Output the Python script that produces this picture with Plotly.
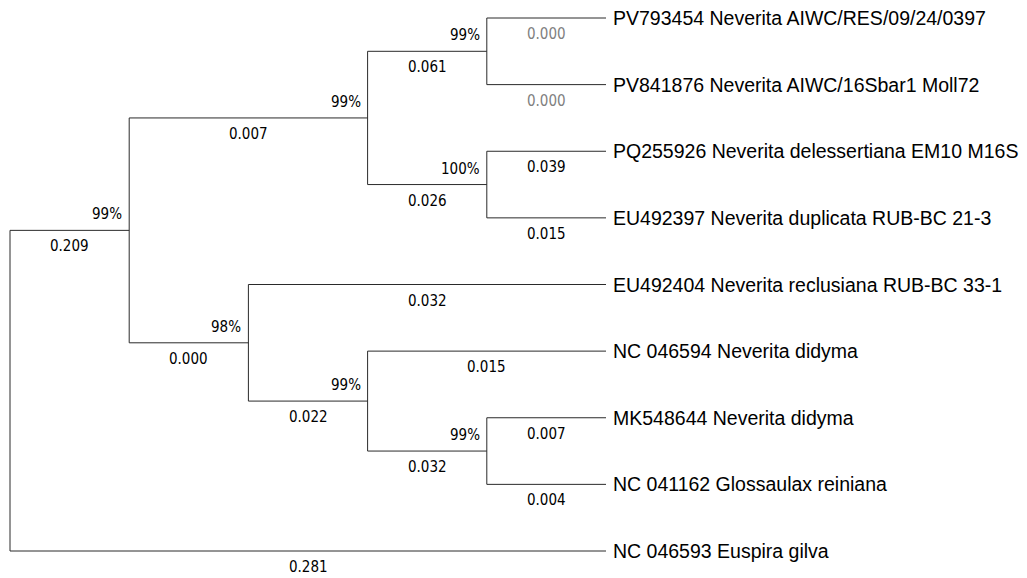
import plotly.graph_objects as go

# ---------------- data ----------------
leaf_names = [
    "PV793454 Neverita AIWC/RES/09/24/0397",
    "PV841876 Neverita AIWC/16Sbar1 Moll72",
    "PQ255926 Neverita delessertiana EM10 M16S",
    "EU492397 Neverita duplicata RUB-BC 21-3",
    "EU492404 Neverita reclusiana RUB-BC 33-1",
    "NC 046594 Neverita didyma",
    "MK548644 Neverita didyma",
    "NC 041162 Glossaulax reiniana",
    "NC 046593 Euspira gilva",
]
leaf_parent = ["N3", "N3", "N4", "N4", "N5", "N6", "N7", "N7", "N0"]
leaf_length = ["0.000", "0.000", "0.039", "0.015", "0.032", "0.015", "0.007", "0.004", "0.281"]

node_ids = ["N0", "N1", "N2", "N3", "N4", "N5", "N6", "N7"]
node_parent = [None, "N0", "N1", "N2", "N2", "N1", "N5", "N6"]
node_length = [None, "0.209", "0.007", "0.061", "0.026", "0.000", "0.022", "0.032"]
node_bootstrap = [None, "99%", "99%", "99%", "100%", "98%", "99%", "99%"]

# ---------------- layout of the tree (topology only, tips aligned) ----------------
children = {n: [] for n in node_ids}
for i, p in enumerate(leaf_parent):
    children[p].append(("L", i))
for n, p in zip(node_ids, node_parent):
    if p is not None:
        children[p].append(("N", n))

height = {}
ypos = {}


def walk(n):
    hs, ys = [], []
    for kind, c in children[n]:
        if kind == "L":
            hs.append(0)
            ys.append(c)
        else:
            walk(c)
            hs.append(height[c])
            ys.append(ypos[c])
    height[n] = max(hs) + 1
    ypos[n] = (min(ys) + max(ys)) / 2


walk("N0")
H = height["N0"]
xpos = {n: H - height[n] for n in node_ids}

xs, ys = [], []
annotations = []
LEN_FONT = dict(family="DejaVu Sans Condensed, Tahoma, sans-serif", size=15, color="black")

for n in node_ids:
    cy = []
    for kind, c in children[n]:
        cy.append(c if kind == "L" else ypos[c])
    xs += [xpos[n], xpos[n], None]
    ys += [min(cy), max(cy), None]

for n, p, bl, bs in zip(node_ids, node_parent, node_length, node_bootstrap):
    if p is None:
        continue
    xs += [xpos[p], xpos[n], None]
    ys += [ypos[n], ypos[n], None]
    annotations.append(dict(x=(xpos[p] + xpos[n]) / 2, y=ypos[n], text=bl, showarrow=False,
                            xanchor="center", yanchor="middle", yshift=-16, font=LEN_FONT))
    annotations.append(dict(x=xpos[n], y=ypos[n], text=bs, showarrow=False,
                            xanchor="right", yanchor="middle", xshift=-5, yshift=16, font=LEN_FONT))

for i, (name, p, bl) in enumerate(zip(leaf_names, leaf_parent, leaf_length)):
    xs += [xpos[p], H, None]
    ys += [i, i, None]
    col = "#808080" if float(bl) == 0 else "black"
    annotations.append(dict(x=(xpos[p] + H) / 2, y=i, text=bl, showarrow=False,
                            xanchor="center", yanchor="middle", yshift=-16,
                            font=dict(LEN_FONT, color=col)))
    annotations.append(dict(x=H, y=i, text=name, showarrow=False,
                            xanchor="left", yanchor="middle", xshift=5,
                            font=dict(family="Liberation Sans, Arial, sans-serif", size=19.5, color="black")))

fig = go.Figure(go.Scatter(x=xs, y=ys, mode="lines", line=dict(color="#2a2a2a", width=1),
                           hoverinfo="skip", showlegend=False))

# page body has an 8px margin, so the figure is placed at (8, 8) in the window
W, HT = 1019, 570
x0, x1 = 2, 598     # root and tips, px in figure
y0, y1 = 10, 543    # first and last tip, px in figure
px_per_x = (x1 - x0) / H
px_per_y = (y1 - y0) / (len(leaf_names) - 1)
fig.update_layout(
    width=W, height=HT,
    margin=dict(l=0, r=0, t=0, b=0),
    paper_bgcolor="white", plot_bgcolor="white",
    xaxis=dict(range=[-x0 / px_per_x, (W - x0) / px_per_x], visible=False, fixedrange=True),
    yaxis=dict(range=[(HT - y0) / px_per_y, -y0 / px_per_y], visible=False, fixedrange=True),
    annotations=annotations,
)
fig.write_html("out.html")
